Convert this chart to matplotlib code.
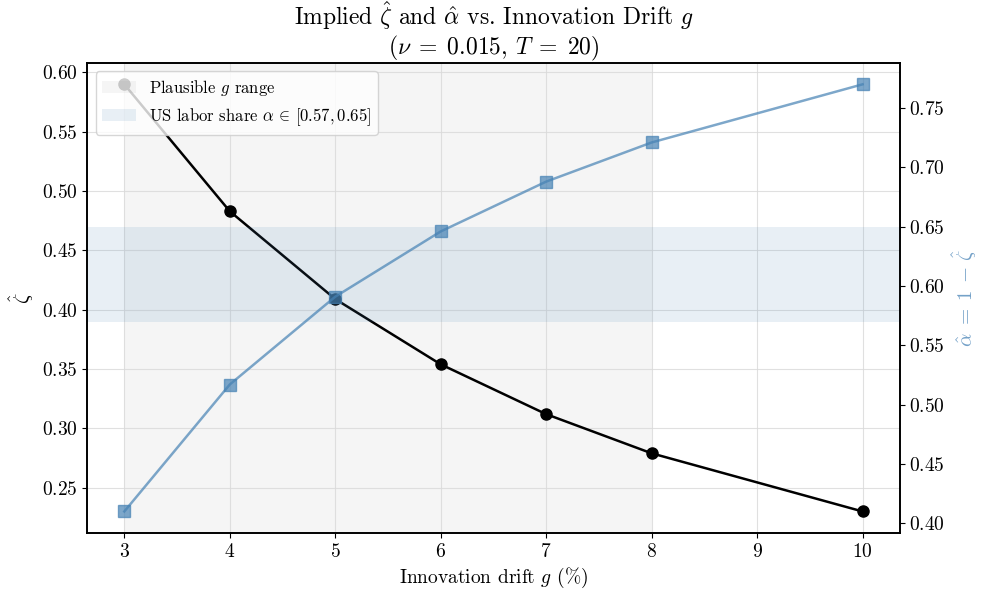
import matplotlib
matplotlib.use("Agg")
import matplotlib.pyplot as plt
import numpy as np

plt.rcParams.update({
    "font.family": "serif",
    "font.serif": ["cmr10"],
    "mathtext.fontset": "cm",
    "axes.formatter.use_mathtext": True,
    "axes.unicode_minus": False,
})

g_pct = [3, 4, 5, 6, 7, 8, 10]
zeta_hat = [0.590, 0.483, 0.409, 0.354, 0.312, 0.279, 0.230]
alpha_hat = [1 - z for z in zeta_hat]
g_range = (3, 8)
labor_share = (0.57, 0.65)

blue = "steelblue"

fig, ax1 = plt.subplots(figsize=(9.82, 5.94), dpi=100)
fig.subplots_adjust(left=0.089, right=0.916, top=0.894, bottom=0.103)
ax2 = ax1.twinx()

span_g = ax1.axvspan(*g_range, color="gray", alpha=0.08, lw=0,
                     label=r"Plausible $g$ range", zorder=0)
ax1.plot(g_pct, zeta_hat, "o-", color="black", lw=1.8, ms=8, zorder=3)

span_a = ax2.axhspan(*labor_share, color=blue, alpha=0.12, lw=0,
                     label=r"US labor share $\alpha\,\in\,[0.57, 0.65]$", zorder=0)
ax2.plot(g_pct, alpha_hat, "s-", color=blue, alpha=0.7, lw=1.8, ms=8, zorder=3)

ax1.grid(True, color="0.85", lw=0.8, alpha=0.8)
ax1.set_axisbelow(True)

ax1.set_xlabel(r"Innovation drift $g$ (%)", fontsize=14)
ax1.set_ylabel(r"$\hat{\zeta}$", fontsize=15)
ax2.set_ylabel(r"$\hat{\alpha}\;=\;1\,-\,\hat{\zeta}$", fontsize=15, color="#74a1c8")
ax1.tick_params(labelsize=14)
ax2.tick_params(labelsize=14)
for sp in ax1.spines.values():
    sp.set_linewidth(1.2)
for sp in ax2.spines.values():
    sp.set_linewidth(1.2)

ax1.set_title("Implied $\\hat{\\zeta}$ and $\\hat{\\alpha}$ vs. Innovation Drift $g$\n"
              "($\\nu\\;=\\;0.015$, $T\\;=\\;20$)", fontsize=17, linespacing=1.1)

ax2.legend([span_g, span_a], [span_g.get_label(), span_a.get_label()],
           loc="upper left", fontsize=12, framealpha=0.8)

fig.savefig("out.png", dpi=100)
